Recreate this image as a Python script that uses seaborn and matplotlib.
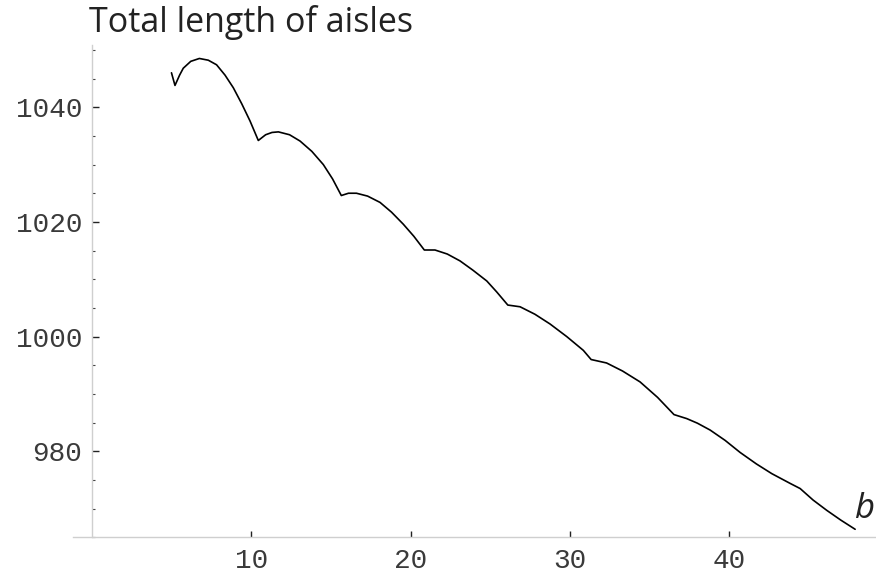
import matplotlib
matplotlib.use("Agg")
import matplotlib.pyplot as plt
from matplotlib.ticker import MultipleLocator, FixedLocator
import seaborn as sns
import pandas as pd

# Total aisle length as a function of the block parameter b
b_values = [
    4.99, 5.21, 5.5, 5.73, 6.2, 6.74, 7.3, 7.82, 8.35, 8.87, 9.4, 9.92, 10.44,
    10.9, 11.3, 11.7, 12.4, 13.06, 13.8, 14.52, 15.1, 15.65,
    16.1, 16.6, 17.3, 18.08, 18.8, 19.54, 20.2, 20.86,
    21.53, 22.3, 23.1, 23.9, 24.78, 25.4, 26.1,
    26.87, 27.8, 28.75, 29.8, 30.84, 31.33,
    32.3, 33.3, 34.4, 35.5, 36.53,
    37.33, 38.0, 38.8, 39.74, 40.68, 41.7, 42.67,
    43.82, 44.45, 45.26, 46.12, 47.0, 47.9,
]
total_length = [
    1046.0, 1043.8, 1045.6, 1046.8, 1048.0, 1048.5, 1048.2, 1047.4, 1045.6, 1043.4, 1040.6, 1037.6, 1034.2,
    1035.2, 1035.6, 1035.7, 1035.2, 1034.1, 1032.3, 1030.0, 1027.5, 1024.6,
    1025.0, 1025.0, 1024.5, 1023.4, 1021.7, 1019.6, 1017.5, 1015.1,
    1015.1, 1014.4, 1013.2, 1011.6, 1009.7, 1007.8, 1005.5,
    1005.2, 1003.9, 1002.2, 1000.0, 997.6, 996.0,
    995.4, 994.0, 992.1, 989.4, 986.4,
    985.7, 984.9, 983.7, 981.9, 979.8, 977.8, 976.1,
    974.4, 973.5, 971.5, 969.7, 968.0, 966.4,
]
x_ticks = [10, 20, 30, 40]
y_ticks = [980, 1000, 1020, 1040]
title_text = "Total length of aisles"
x_label = "b"

df = pd.DataFrame({"b": b_values, "length": total_length})

sns.set_style("white")
W, H = 876, 573
fig = plt.figure(figsize=(W / 100, H / 100), dpi=100)
ax = fig.add_axes([72.7 / W, (H - 537.3) / H, (W - 72.7) / W, (537.3 - 45) / H])

sns.lineplot(data=df, x="b", y="length", sort=False, estimator=None,
             color="black", linewidth=1.2, ax=ax)

ax.set_xlim(-1.21, 49.21)
ax.set_ylim(965.0, 1050.85)

for side in ("top", "right"):
    ax.spines[side].set_visible(False)
ax.spines["left"].set_position(("data", 0))
for side in ("left", "bottom"):
    ax.spines[side].set_color("#cfcfcf")
    ax.spines[side].set_linewidth(1.0)

ax.xaxis.set_major_locator(FixedLocator(x_ticks))
ax.yaxis.set_major_locator(FixedLocator(y_ticks))
ax.yaxis.set_minor_locator(MultipleLocator(5))

mono = "Liberation Mono"
ax.set_xticklabels([str(v) for v in x_ticks], fontfamily=mono, fontsize=20, color="#3a3a3a")
ax.set_yticklabels([str(v) for v in y_ticks], fontfamily=mono, fontsize=20, color="#3a3a3a")
ax.tick_params(axis="x", which="major", direction="in", length=4.5, width=1.0,
               color="#222222", pad=8, bottom=True)
ax.tick_params(axis="y", which="major", direction="in", length=5, width=1.0,
               color="#222222", pad=7, left=True)
ax.tick_params(axis="y", which="minor", direction="in", length=2.5, width=0.8,
               color="#444444", left=True)
ax.set_xlabel("")
ax.set_ylabel("")

fig.text(89 / W, 1 - 32 / H, title_text, fontfamily="Open Sans", fontsize=24.5,
         color="#222222", ha="left", va="baseline")
fig.text(854 / W, 1 - 518 / H, x_label, fontfamily="Open Sans", fontstyle="italic",
         fontsize=25, color="#222222", ha="left", va="baseline")

fig.savefig("out.png", dpi=100)
